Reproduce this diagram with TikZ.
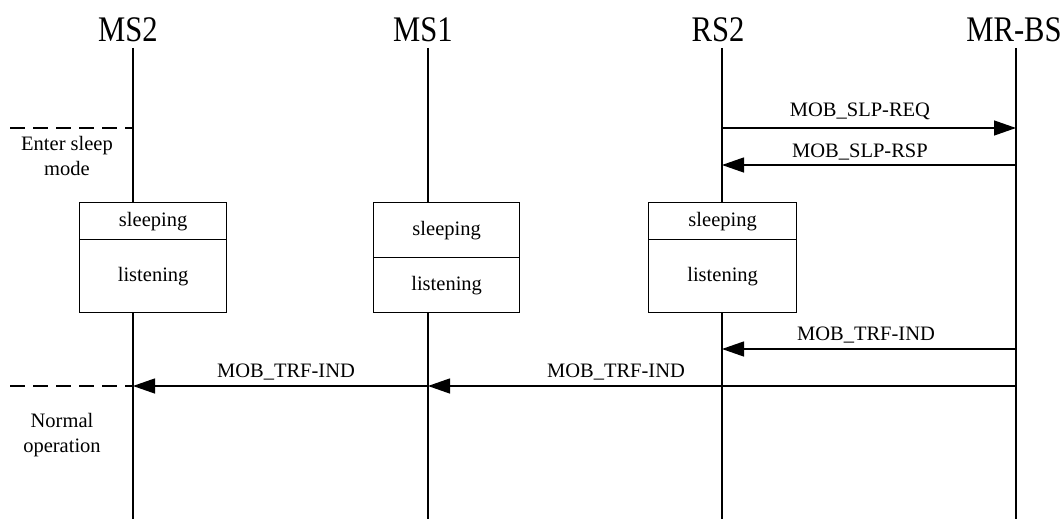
\documentclass[tikz,border=0pt]{standalone}
\usepackage{fontspec}
\setmainfont{Liberation Serif}
\usetikzlibrary{arrows.meta}
\newcommand{\hdtext}[1]{\scalebox{0.85}[1]{#1}}
\tikzset{
  lane/.style={line width=1.3pt},
  msg/.style={line width=1.3pt,-{Triangle[length=22pt,width=15pt]}},
  dashline/.style={line width=1.3pt,dash pattern=on 15pt off 8pt},
  statebox/.style={draw,line width=1.3pt,anchor=north west,inner sep=0pt,font=\fontsize{20.5}{24}\selectfont},
  head/.style={inner sep=0pt,font=\fontsize{36}{40}\selectfont},
  lbl/.style={inner sep=0pt,font=\fontsize{20.5}{24}\selectfont},
  note/.style={inner sep=0pt,align=center,font=\fontsize{20.5}{24.5}\selectfont}
}
\begin{document}
\begin{tikzpicture}[x=1pt,y=-1pt]
\useasboundingbox (0,0) rectangle (1061,519);
% headers
\node[head] (hms2) at (128,30) {\hdtext{MS2}};
\node[head] (hms1) at (423,30) {\hdtext{MS1}};
\node[head] (hrs2) at (718,30) {\hdtext{RS2}};
\node[head] (hbs) at (1014,30) {\hdtext{MR-BS}};
% lifeline end points
\coordinate (ms2top) at (133,48);  \coordinate (ms2bot) at (133,519);
\coordinate (ms1top) at (428,48);  \coordinate (ms1bot) at (428,519);
\coordinate (rs2top) at (722,48);  \coordinate (rs2bot) at (722,519);
\coordinate (bstop) at (1016,48);  \coordinate (bsbot) at (1016,519);
% state boxes
\node[statebox,minimum width=147pt,minimum height=37pt] (ms2s) at (79,202) {sleeping};
\node[statebox,minimum width=147pt,minimum height=73pt] (ms2l) at (79,239) {listening};
\node[statebox,minimum width=146pt,minimum height=55pt] (ms1s) at (373,202) {sleeping};
\node[statebox,minimum width=146pt,minimum height=55pt] (ms1l) at (373,257) {listening};
\node[statebox,minimum width=148pt,minimum height=37pt] (rs2s) at (648,202) {sleeping};
\node[statebox,minimum width=148pt,minimum height=73pt] (rs2l) at (648,239) {listening};
% lifelines
\draw[lane] (ms2top) -- (ms2top |- ms2s.north);
\draw[lane] (ms2bot |- ms2l.south) -- (ms2bot);
\draw[lane] (ms1top) -- (ms1top |- ms1s.north);
\draw[lane] (ms1bot |- ms1l.south) -- (ms1bot);
\draw[lane] (rs2top) -- (rs2top |- rs2s.north);
\draw[lane] (rs2bot |- rs2l.south) -- (rs2bot);
\draw[lane] (bstop) -- (bsbot);
% message points
\coordinate (rs2a) at (722,128); \coordinate (bsa) at (1016,128);
\coordinate (rs2b) at (722,165); \coordinate (bsb) at (1016,165);
\coordinate (rs2c) at (722,349); \coordinate (bsc) at (1016,349);
\coordinate (ms2d) at (133,386); \coordinate (ms1d) at (428,386); \coordinate (bsd) at (1016,386);
\coordinate (dash1) at (10,128); \coordinate (ms2e) at (133,128);
\coordinate (dash2) at (10,386);
% messages
\draw[msg] (rs2a) -- (bsa);
\node[lbl] (l1) at (860,111) {MOB\_SLP-REQ};
\draw[msg] (bsb) -- (rs2b);
\node[lbl] (l2) at (860,152) {MOB\_SLP-RSP};
\draw[msg] (bsc) -- (rs2c);
\node[lbl] (l3) at (866,335) {MOB\_TRF-IND};
\draw[msg] (bsd) -- (ms1d);
\node[lbl] (l4) at (616,372) {MOB\_TRF-IND};
\draw[msg] (ms1d) -- (ms2d);
\node[lbl] (l5) at (286,372) {MOB\_TRF-IND};
% dashed markers
\draw[dashline] (dash1) -- (ms2e);
\draw[dashline] (dash2) -- (ms2d);
\node[note] (n1) at (67,156) {Enter sleep\\mode};
\node[note] (n2) at (62,435) {Normal\\operation};
\end{tikzpicture}
\end{document}
